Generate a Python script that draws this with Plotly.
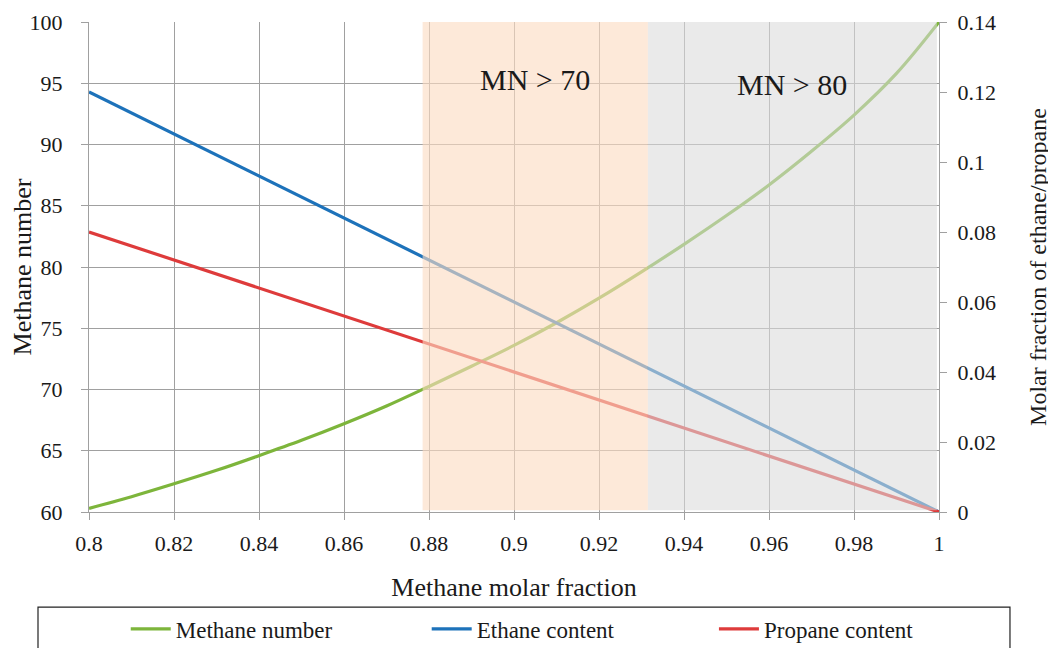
import plotly.graph_objects as go

# ---- data ----
methane_fraction = [0.80, 0.81, 0.82, 0.83, 0.84, 0.85, 0.86, 0.87, 0.88, 0.89, 0.90,
                    0.91, 0.92, 0.93, 0.94, 0.95, 0.96, 0.97, 0.98, 0.99, 1.00]
methane_number = [60.3, 61.25, 62.3, 63.4, 64.6, 65.85, 67.2, 68.65, 70.25, 71.9, 73.6,
                  75.45, 77.45, 79.6, 81.85, 84.2, 86.7, 89.45, 92.4, 95.8, 100.0]
ethane_content = [0.120, 0.114, 0.108, 0.102, 0.096, 0.090, 0.084, 0.078, 0.072, 0.066, 0.060,
                  0.054, 0.048, 0.042, 0.036, 0.030, 0.024, 0.018, 0.012, 0.006, 0.000]
propane_content = [0.080, 0.076, 0.072, 0.068, 0.064, 0.060, 0.056, 0.052, 0.048, 0.044, 0.040,
                   0.036, 0.032, 0.028, 0.024, 0.020, 0.016, 0.012, 0.008, 0.004, 0.000]

x_ticks = [0.8, 0.82, 0.84, 0.86, 0.88, 0.9, 0.92, 0.94, 0.96, 0.98, 1]
x_ticktext = ["0.8", "0.82", "0.84", "0.86", "0.88", "0.9", "0.92", "0.94", "0.96", "0.98", "1"]
y_ticks = [60, 65, 70, 75, 80, 85, 90, 95, 100]
y2_ticks = [0, 0.02, 0.04, 0.06, 0.08, 0.1, 0.12, 0.14]
y2_ticktext = ["0", "0.02", "0.04", "0.06", "0.08", "0.1", "0.12", "0.14"]

zone_mn70 = [0.8785, 0.9315]
zone_mn80 = [0.9315, 0.9995]
zone_labels = ["MN > 70", "MN > 80"]
zone_label_pos = [(0.905, 95.3), (0.9655, 94.9)]

FONT = "Liberation Serif"
GREEN = "#7DB53B"
BLUE = "#1D72BA"
RED = "#DE3B3B"
GRID = "#A0A0A0"
TXT = "#1a1a1a"

fig = go.Figure()
fig.add_trace(go.Scatter(x=methane_fraction, y=methane_number, name="Methane number",
                         mode="lines", line=dict(color=GREEN, width=3.2, shape="spline"),
                         yaxis="y", legend="legend"))
fig.add_trace(go.Scatter(x=methane_fraction, y=ethane_content, name="Ethane content",
                         mode="lines", line=dict(color=BLUE, width=3.2), yaxis="y2",
                         legend="legend2"))
fig.add_trace(go.Scatter(x=methane_fraction, y=propane_content, name="Propane content",
                         mode="lines", line=dict(color=RED, width=3.2), yaxis="y2",
                         legend="legend3"))

# shaded zones drawn above lines, semi-transparent (as in the reference)
fig.add_shape(type="rect", xref="x", yref="y", x0=zone_mn70[0], x1=zone_mn70[1],
              y0=60.15, y1=100, fillcolor="rgb(252,220,194)", opacity=0.62,
              line=dict(width=0), layer="above")
fig.add_shape(type="rect", xref="x", yref="y", x0=zone_mn80[0], x1=zone_mn80[1],
              y0=60.15, y1=100, fillcolor="rgb(218,218,218)", opacity=0.58,
              line=dict(width=0), layer="above")

# legend box
fig.add_shape(type="rect", xref="paper", yref="paper", x0=-0.06, x1=1.0835,
              y0=-0.34, y1=-0.194, line=dict(color="#222222", width=1.2),
              fillcolor="rgba(0,0,0,0)")

for lab, (xp, yp) in zip(zone_labels, zone_label_pos):
    fig.add_annotation(x=xp, y=yp, xref="x", yref="y", text=lab, showarrow=False,
                       font=dict(family=FONT, size=30, color=TXT))

legend_common = dict(orientation="h", xref="container", yref="container",
                     y=0.0417, xanchor="left", yanchor="middle",
                     font=dict(family=FONT, size=23, color=TXT),
                     bgcolor="rgba(0,0,0,0)", itemwidth=40)

fig.update_layout(
    width=1056, height=648,
    margin=dict(l=81, r=125, t=14, b=144),
    paper_bgcolor="white", plot_bgcolor="white",
    font=dict(family=FONT, size=20, color=TXT),
    showlegend=True,
    legend=dict(x=0.1115, **legend_common),
    legend2=dict(x=0.3965, **legend_common),
    legend3=dict(x=0.6685, **legend_common),
    xaxis=dict(range=[0.8, 1.0], tickvals=x_ticks, ticktext=x_ticktext,
               showgrid=True, gridcolor=GRID, gridwidth=1,
               showline=True, linecolor=GRID, linewidth=1,
               ticks="outside", ticklen=7, tickcolor=GRID, ticklabelstandoff=5,
               tickfont=dict(family=FONT, size=22), automargin=False,
               title=dict(text="Methane molar fraction", font=dict(family=FONT, size=26),
                          standoff=22),
               zeroline=False, mirror=False),
    yaxis=dict(range=[60, 100], tickvals=y_ticks,
               showgrid=True, gridcolor=GRID, gridwidth=1,
               showline=True, linecolor=GRID, linewidth=1,
               ticks="outside", ticklen=7, tickcolor=GRID, ticklabelstandoff=14,
               tickfont=dict(family=FONT, size=22), automargin=False,
               title=dict(text="Methane number", font=dict(family=FONT, size=26),
                          standoff=8),
               zeroline=False),
    yaxis2=dict(range=[0, 0.14], tickvals=y2_ticks, ticktext=y2_ticktext,
                overlaying="y", side="right", showgrid=False,
                showline=True, linecolor=GRID, linewidth=1,
                ticks="outside", ticklen=7, tickcolor=GRID, ticklabelstandoff=6,
                tickfont=dict(family=FONT, size=22), automargin=False,
                title=dict(text="Molar fraction of ethane/propane",
                           font=dict(family=FONT, size=24), standoff=34),
                zeroline=False),
)

fig.write_html("out.html")
